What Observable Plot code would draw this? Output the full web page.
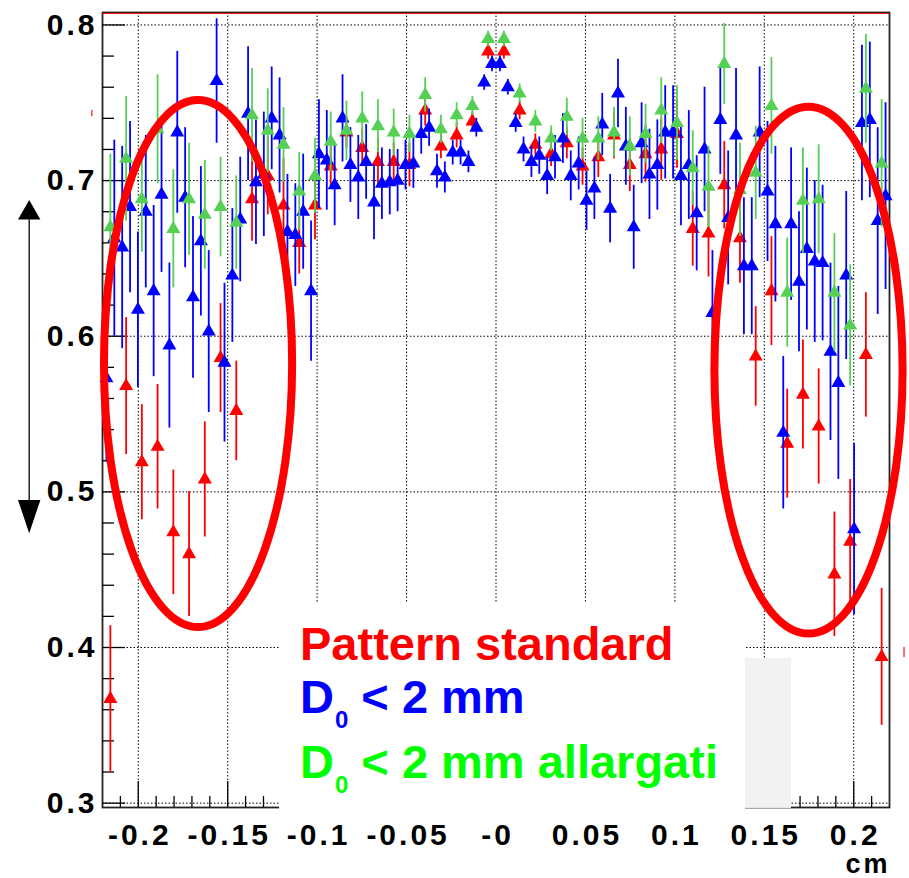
<!DOCTYPE html>
<html><head><meta charset="utf-8">
<script src="https://cdn.jsdelivr.net/npm/d3@7"></script>
<script src="https://cdn.jsdelivr.net/npm/@observablehq/plot@0.6"></script>
<style>
html,body{margin:0;padding:0;background:#fff;}
#chart{width:909px;height:878px;}
</style></head><body><div id="chart"></div>
<script>
// ---- data (50 bins for red / green, 100 bins for blue) ----
const redVal = [0.367,0.568,0.519,0.529,0.474,0.460,0.508,0.586,0.552,0.688,
  0.703,0.684,0.660,0.684,0.709,0.731,0.721,0.712,0.712,0.710,
  0.745,0.722,0.729,0.738,0.783,0.783,0.745,0.723,0.717,0.724,
  0.709,0.715,0.729,0.710,0.717,0.720,0.730,0.669,0.666,0.697,
  0.663,0.587,0.629,0.531,0.5625,0.542,0.447,0.468,0.588,0.394];
const redErr = [0.047,0.044,0.037,0.040,0.040,0.040,0.037,0.035,0.032,0.027,
  0.025,0.030,0.020,0.022,0.013,0.010,0.012,0.015,0.012,0.014,
  0.010,0.008,0.008,0.006,0.005,0.005,0.006,0.007,0.008,0.010,
  0.012,0.013,0.015,0.017,0.018,0.020,0.022,0.024,0.028,0.028,
  0.029,0.032,0.035,0.035,0.035,0.037,0.040,0.040,0.040,0.044];
const greenVal = [0.670,0.714,0.688,0.733,0.669,0.688,0.678,0.683,0.673,0.742,
  0.732,0.723,0.693,0.703,0.725,0.732,0.740,0.735,0.731,0.730,
  0.755,0.733,0.742,0.748,0.791,0.791,0.756,0.738,0.727,0.741,
  0.727,0.727,0.731,0.722,0.730,0.745,0.737,0.708,0.696,0.775,
  0.694,0.705,0.748,0.628,0.687,0.688,0.628,0.607,0.759,0.711];
const greenErr = [0.047,0.040,0.034,0.035,0.038,0.036,0.035,0.032,0.030,0.030,
  0.027,0.024,0.025,0.024,0.019,0.019,0.017,0.017,0.015,0.012,
  0.011,0.009,0.008,0.006,0.005,0.005,0.006,0.007,0.008,0.012,
  0.013,0.014,0.016,0.019,0.019,0.021,0.024,0.024,0.026,0.026,
  0.030,0.030,0.031,0.035,0.034,0.035,0.038,0.039,0.035,0.041];
const blueVal = [0.573,0.663,0.657,0.683,0.617,0.680,0.629,0.691,0.594,0.731,
  0.689,0.625,0.661,0.603,0.764,0.583,0.639,0.675,0.743,0.699,
  0.704,0.740,0.729,0.667,0.665,0.680,0.629,0.717,0.713,0.697,
  0.740,0.710,0.702,0.712,0.686,0.698,0.699,0.700,0.710,0.711,
  0.730,0.734,0.706,0.702,0.718,0.718,0.712,0.734,0.763,0.775,
  0.775,0.760,0.737,0.720,0.712,0.716,0.703,0.715,0.727,0.703,
  0.711,0.687,0.695,0.736,0.682,0.756,0.722,0.670,0.724,0.704,
  0.710,0.731,0.731,0.703,0.710,0.679,0.720,0.615,0.739,0.676,
  0.729,0.645,0.645,0.731,0.693,0.672,0.538,0.672,0.635,0.656,
  0.648,0.647,0.590,0.570,0.639,0.476,0.737,0.739,0.674,0.690];
const blueErr = [0.054,0.063,0.065,0.055,0.050,0.049,0.055,0.050,0.053,0.052,
  0.045,0.052,0.048,0.052,0.040,0.051,0.043,0.040,0.043,0.040,
  0.040,0.033,0.037,0.037,0.033,0.037,0.045,0.035,0.032,0.026,
  0.028,0.024,0.027,0.024,0.024,0.023,0.021,0.020,0.016,0.016,
  0.013,0.012,0.011,0.010,0.008,0.008,0.007,0.006,0.005,0.005,
  0.005,0.005,0.006,0.008,0.010,0.012,0.012,0.014,0.016,0.016,
  0.017,0.019,0.020,0.020,0.022,0.022,0.025,0.027,0.026,0.029,
  0.029,0.030,0.030,0.032,0.035,0.037,0.040,0.040,0.035,0.043,
  0.043,0.044,0.044,0.042,0.045,0.050,0.049,0.049,0.045,0.052,
  0.052,0.050,0.057,0.062,0.054,0.055,0.050,0.050,0.060,0.060];

const xTickValues = [-0.2,-0.15,-0.1,-0.05,0,0.05,0.1,0.15,0.2];
const xTickLabels = ["-0.2","-0.15","-0.1","-0.05","-0","0.05","0.1","0.15","0.2"];
const yTickValues = [0.3,0.4,0.5,0.6,0.7,0.8];
const yTickLabels = ["0.3","0.4","0.5","0.6","0.7","0.8"];
const xTitle = "cm";
const legendColors = ["#ff0000","#0000ff","#00ff00"];
const legendMain = ["Pattern standard","D","D"];
const legendSub = ["","0","0"];
const legendRest = [""," < 2 mm"," < 2 mm allargati"];

// ---- layout ----
const W = 909, H = 878, ML = 102, MR = 20, MT = 12, MB = 71;
const X0 = -0.22, X1 = 0.22, Y0 = 0.2972, Y1 = 0.808;
const pxX = (X1 - X0) / (W - ML - MR);
const pxY = (Y1 - Y0) / (H - MT - MB);

function binned(vals, errs) {
  const w = (X1 - X0) / vals.length;
  return vals.map((v, i) => ({x: X0 + w * (i + 0.5), y: v, lo: v - errs[i], hi: v + errs[i]}));
}
const red = binned(redVal, redErr);
const blue = binned(blueVal, blueErr);
const green = binned(greenVal, greenErr);

const xMinor = d3.range(-21, 22).filter(k => k % 5 !== 0).map(k => k / 100);
const yMinor = d3.range(15, 41).filter(k => k % 5 !== 0).map(k => k / 50);
const yTicks = yTickValues.map((v, i) => ({v, t: yTickLabels[i]}));
const xTicks = xTickValues.map((v, i) => ({v, t: xTickLabels[i]}));

const greenMarker = "#55d055";
const font = "'Liberation Sans', Arial, Helvetica, sans-serif";

function series(data, color) {
  return [
    Plot.ruleX(data, {x: "x", y1: "lo", y2: "hi", stroke: color, strokeWidth: 1.8}),
    Plot.dot(data, {x: "x", y: "y", symbol: "triangle", r: 5.2, fill: color, stroke: "none"})
  ];
}

const plot = Plot.plot({
  width: W, height: H,
  marginLeft: ML, marginRight: MR, marginTop: MT, marginBottom: MB,
  style: {fontFamily: font, background: "#fff", overflow: "visible"},
  x: {domain: [X0, X1], axis: null},
  y: {domain: [Y0, Y1], axis: null},
  marks: [
    Plot.ruleX(xTickValues, {stroke: "#000", strokeWidth: 1, strokeDasharray: "1.5,2"}),
    Plot.ruleY(yTickValues, {stroke: "#000", strokeWidth: 1, strokeDasharray: "1.5,2"}),
    Plot.frame({stroke: "#222", strokeWidth: 1.8}),
    Plot.ruleY(yTickValues, {x1: X0, x2: X0 + 23 * pxX, stroke: "#000", strokeWidth: 1.3}),
    Plot.ruleY(yMinor, {x1: X0, x2: X0 + 12 * pxX, stroke: "#000", strokeWidth: 1.3}),
    Plot.ruleX(xTickValues, {y1: Y0, y2: Y0 + 26 * pxY, stroke: "#000", strokeWidth: 1.3}),
    Plot.ruleX(xMinor, {y1: Y0, y2: Y0 + 11 * pxY, stroke: "#000", strokeWidth: 1.3}),
    ...series(red, "#ff0000"),
    ...series(blue, "#0000ff"),
    ...series(green, greenMarker),
    Plot.text(yTicks, {x: X0, y: "v", text: "t", textAnchor: "end", dx: -5, fontSize: 30, fontWeight: "bold", fill: "#000"}),
    Plot.text(xTicks, {x: "v", y: Y0, text: "t", dx: 1.5, dy: 27.5, fontSize: 30, fontWeight: "bold", fill: "#000"}),
    Plot.text([xTitle], {x: X1, y: Y0, text: d => d, textAnchor: "end", dx: 1, dy: 56.5, fontSize: 27, fontWeight: "bold", fill: "#000"})
  ]
});

document.getElementById("chart").appendChild(plot);

const svg = d3.select(plot);
svg.selectAll("text").attr("letter-spacing", "3px");
const sx = plot.scale("x").apply, sy = plot.scale("y").apply;
const ann = svg.append("g");

// thin red line under the top of the frame
ann.append("line").attr("x1", sx(X0)).attr("x2", sx(X1)).attr("y1", sy(Y1) + 1.4).attr("y2", sy(Y1) + 1.4)
  .attr("stroke", "#ff0000").attr("stroke-width", 1);

// white box holding the legend and the grey patch
ann.append("rect").attr("x", sx(-0.121)).attr("y", sy(0.4283))
  .attr("width", sx(0.1395) - sx(-0.121)).attr("height", sy(0.2953) - sy(0.4283)).attr("fill", "#fff");
ann.append("rect").attr("x", sx(0.1395)).attr("y", sy(0.3929))
  .attr("width", sx(0.1652) - sx(0.1395)).attr("height", sy(0.2966) - sy(0.3929)).attr("fill", "#f2f2f2");

// legend
const legendY = [0.3917, 0.3576, 0.3158];
legendMain.forEach((m, i) => {
  const t = ann.append("text").attr("x", sx(-0.1093)).attr("y", sy(legendY[i]))
    .attr("text-anchor", "start")
    .attr("fill", legendColors[i]).attr("font-family", font).attr("font-weight", "bold")
    .attr("font-size", 47).style("white-space", "pre");
  t.append("tspan").text(m);
  if (legendSub[i]) {
    t.append("tspan").attr("font-size", 24).attr("dy", 15).attr("dx", 1).text(legendSub[i]);
    t.append("tspan").attr("dy", -15).text(legendRest[i]);
  }
});

// red ellipses
[[-0.1663, 0.5821], [0.1750, 0.5779]].forEach(([cx, cy]) => {
  ann.append("ellipse").attr("cx", sx(cx)).attr("cy", sy(cy))
    .attr("rx", sx(cx + 0.0526) - sx(cx)).attr("ry", sy(cy - 0.1693) - sy(cy))
    .attr("fill", "none").attr("stroke", "#ff0000").attr("stroke-width", 8);
});

// double arrow on the left
const ax = sx(-0.2607), hw = sx(-0.2607 + 0.00626) - ax;
const yTop = sy(0.6872), yTopB = sy(0.6746), yBotB = sy(0.4945), yBot = sy(0.4731);
ann.append("line").attr("x1", ax).attr("x2", ax).attr("y1", yTopB).attr("y2", yBotB)
  .attr("stroke", "#000").attr("stroke-width", 1.3);
ann.append("path").attr("d", `M${ax},${yTop}L${ax - hw},${yTopB}L${ax + hw},${yTopB}Z`).attr("fill", "#000");
ann.append("path").attr("d", `M${ax},${yBot}L${ax - hw},${yBotB}L${ax + hw},${yBotB}Z`).attr("fill", "#000");

// stray red fragments outside the frame
[[-0.2257, 0.7450, 0.7410], [0.2284, 0.4000, 0.3935]].forEach(([x, a, b]) => {
  ann.append("line").attr("x1", sx(x)).attr("x2", sx(x)).attr("y1", sy(a)).attr("y2", sy(b))
    .attr("stroke", "#ff4040").attr("stroke-width", 1.5);
});
</script></body></html>
